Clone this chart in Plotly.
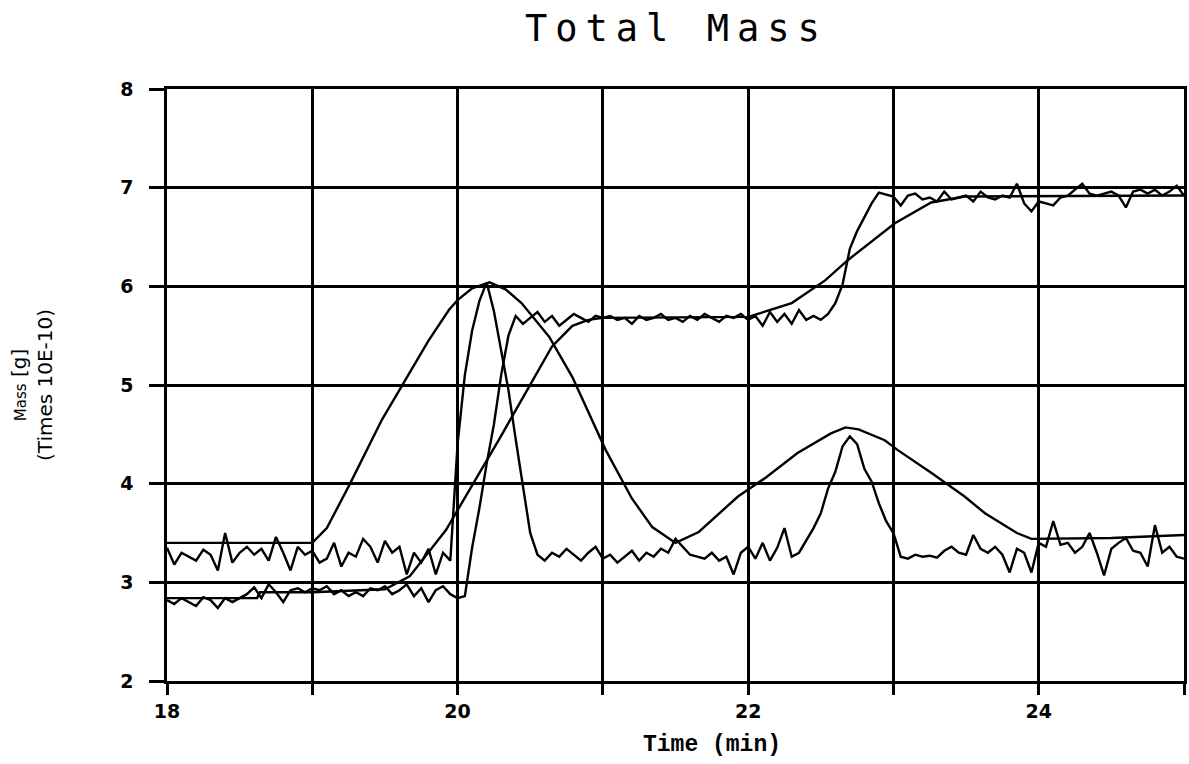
import numpy as np
import plotly.graph_objects as go

# ---- data ----
SMOOTH_A_T = [18.0, 19.0, 19.1, 19.26, 19.48, 19.6, 19.8, 19.94, 20.0, 20.1, 20.22, 20.33,
              20.44, 20.63, 20.79, 21.02, 21.2, 21.34, 21.5, 21.66, 21.93, 22.12, 22.34,
              22.57, 22.67, 22.76, 22.94, 23.03, 23.26, 23.49, 23.63, 23.85, 23.95, 24.5, 25.0]
SMOOTH_A_V = [3.40, 3.40, 3.55, 4.00, 4.65, 4.95, 5.45, 5.76, 5.86, 5.98, 6.04, 5.97,
              5.83, 5.49, 5.08, 4.34, 3.85, 3.56, 3.40, 3.51, 3.87, 4.06, 4.31,
              4.51, 4.57, 4.55, 4.44, 4.34, 4.11, 3.87, 3.70, 3.50, 3.44, 3.45, 3.48]

SMOOTH_B_T = [18.0, 18.62, 18.64, 19.0, 19.5, 19.67, 19.92, 20.29, 20.65, 20.79, 20.9, 21.0,
              22.0, 22.3, 22.53, 22.69, 23.01, 23.26, 23.49, 25.0]
SMOOTH_B_V = [2.84, 2.84, 2.90, 2.90, 2.93, 3.06, 3.53, 4.46, 5.39, 5.60, 5.66, 5.68,
              5.69, 5.83, 6.06, 6.27, 6.64, 6.85, 6.91, 6.92]

NOISY_T = np.round(np.linspace(18.0, 25.0, 141), 2)
NOISY_A_V = [
    3.35, 3.18, 3.30, 3.26, 3.22, 3.33, 3.28, 3.12, 3.50, 3.20,
    3.30, 3.36, 3.28, 3.34, 3.22, 3.46, 3.30, 3.12, 3.36, 3.28,
    3.32, 3.20, 3.24, 3.40, 3.16, 3.30, 3.26, 3.44, 3.36, 3.20,
    3.42, 3.30, 3.36, 3.08, 3.30, 3.20, 3.34, 3.08, 3.30, 3.22,
    4.40, 5.10, 5.55, 5.85, 6.04, 5.75, 5.35, 4.95, 4.45, 3.95,
    3.50, 3.28, 3.22, 3.30, 3.26, 3.34, 3.28, 3.22, 3.30, 3.36,
    3.24, 3.28, 3.20, 3.26, 3.32, 3.22, 3.30, 3.26, 3.34, 3.30,
    3.44, 3.36, 3.28, 3.26, 3.24, 3.30, 3.22, 3.26, 3.08, 3.30,
    3.36, 3.24, 3.40, 3.22, 3.35, 3.55, 3.26, 3.30, 3.42, 3.55,
    3.70, 3.95, 4.12, 4.38, 4.48, 4.40, 4.15, 4.02, 3.80, 3.62,
    3.50, 3.26, 3.24, 3.28, 3.26, 3.27, 3.25, 3.32, 3.36, 3.30,
    3.28, 3.48, 3.34, 3.30, 3.36, 3.28, 3.10, 3.34, 3.30, 3.10,
    3.40, 3.36, 3.62, 3.38, 3.40, 3.30, 3.36, 3.50, 3.30, 3.07,
    3.34, 3.40, 3.45, 3.32, 3.30, 3.16, 3.58, 3.30, 3.36, 3.26,
    3.24]
NOISY_B_V = [
    2.82, 2.78, 2.84, 2.80, 2.76, 2.85, 2.82, 2.74, 2.84, 2.80,
    2.84, 2.88, 2.95, 2.84, 2.98, 2.90, 2.80, 2.92, 2.94, 2.90,
    2.94, 2.92, 2.96, 2.88, 2.92, 2.86, 2.90, 2.86, 2.94, 2.92,
    2.96, 2.88, 2.92, 2.98, 2.86, 2.94, 2.80, 2.92, 2.96, 2.88,
    2.84, 2.86, 3.35, 3.75, 4.20, 4.60, 5.10, 5.50, 5.70, 5.62,
    5.68, 5.74, 5.64, 5.70, 5.60, 5.66, 5.72, 5.68, 5.64, 5.70,
    5.68, 5.70, 5.66, 5.68, 5.62, 5.70, 5.66, 5.68, 5.72, 5.66,
    5.68, 5.64, 5.70, 5.66, 5.72, 5.68, 5.64, 5.70, 5.68, 5.72,
    5.66, 5.70, 5.60, 5.74, 5.64, 5.72, 5.62, 5.76, 5.66, 5.70,
    5.66, 5.72, 5.83, 6.02, 6.38, 6.56, 6.70, 6.84, 6.95, 6.93,
    6.91, 6.82, 6.92, 6.94, 6.88, 6.90, 6.86, 6.96, 6.88, 6.90,
    6.92, 6.86, 6.96, 6.90, 6.88, 6.92, 6.90, 7.04, 6.84, 6.76,
    6.86, 6.84, 6.82, 6.90, 6.92, 6.98, 7.04, 6.94, 6.92, 6.94,
    6.96, 6.92, 6.80, 6.96, 6.98, 6.94, 6.98, 6.92, 6.96, 7.02,
    6.92]

X_TICKS = [18, 19, 20, 21, 22, 23, 24, 25]
X_TICK_TEXT = ["18", "", "20", "", "22", "", "24", ""]
Y_TICKS = [2, 3, 4, 5, 6, 7, 8]
Y_TICK_TEXT = ["2", "3", "4", "5", "6", "7", "8"]

TITLE = "Total Mass"
X_TITLE = "Time (min)"

# ---- figure ----
LINE = dict(color="black", width=2.4)
fig = go.Figure()
fig.add_trace(go.Scatter(x=SMOOTH_A_T, y=SMOOTH_A_V, mode="lines", line=LINE))
fig.add_trace(go.Scatter(x=SMOOTH_B_T, y=SMOOTH_B_V, mode="lines", line=LINE))
fig.add_trace(go.Scatter(x=NOISY_T, y=NOISY_A_V, mode="lines", line=LINE))
fig.add_trace(go.Scatter(x=NOISY_T, y=NOISY_B_V, mode="lines", line=LINE))

L, R, T, B = 167, 2, 89, 83
W, H = 1189, 764
axis_common = dict(showgrid=True, gridcolor="black", gridwidth=2.5,
                   showline=True, linecolor="black", linewidth=2.5, mirror=True,
                   ticks="outside", tickcolor="black", tickwidth=2.5,
                   zeroline=False,
                   tickfont=dict(family="DejaVu Sans", size=19, color="black", weight="bold"))
fig.update_xaxes(range=[18, 25], tickvals=X_TICKS, ticktext=X_TICK_TEXT, ticklen=11,
                 **axis_common)
fig.update_yaxes(range=[2, 8], tickvals=Y_TICKS, ticktext=Y_TICK_TEXT, ticklen=15,
                 ticklabelstandoff=12, **axis_common)

fig.update_layout(
    width=W, height=H, margin=dict(l=L, r=R, t=T, b=B),
    paper_bgcolor="white", plot_bgcolor="white", showlegend=False,
    annotations=[
        dict(text='<span style="letter-spacing:8px">' + TITLE + '</span>',
             xref="paper", yref="paper", x=0.501, y=1, yshift=61,
             xanchor="center", yanchor="middle", showarrow=False,
             font=dict(family="DejaVu Sans Mono", size=37, color="black")),
        dict(text=X_TITLE, xref="paper", yref="paper", x=0.536, y=0, yshift=-64,
             xanchor="center", yanchor="middle", showarrow=False,
             font=dict(family="Liberation Mono", size=23, color="black", weight="bold")),
        dict(text='<span style="font-size:15px">Mass</span> <span style="font-size:20px">[g]</span>'
                  '<br>(Times 10E-10)',
             xref="paper", yref="paper", x=0, y=0.5, xshift=-135, textangle=-90,
             xanchor="center", yanchor="middle", showarrow=False,
             font=dict(family="DejaVu Sans", size=20, color="black")),
    ],
)

fig.write_html("out.html")
